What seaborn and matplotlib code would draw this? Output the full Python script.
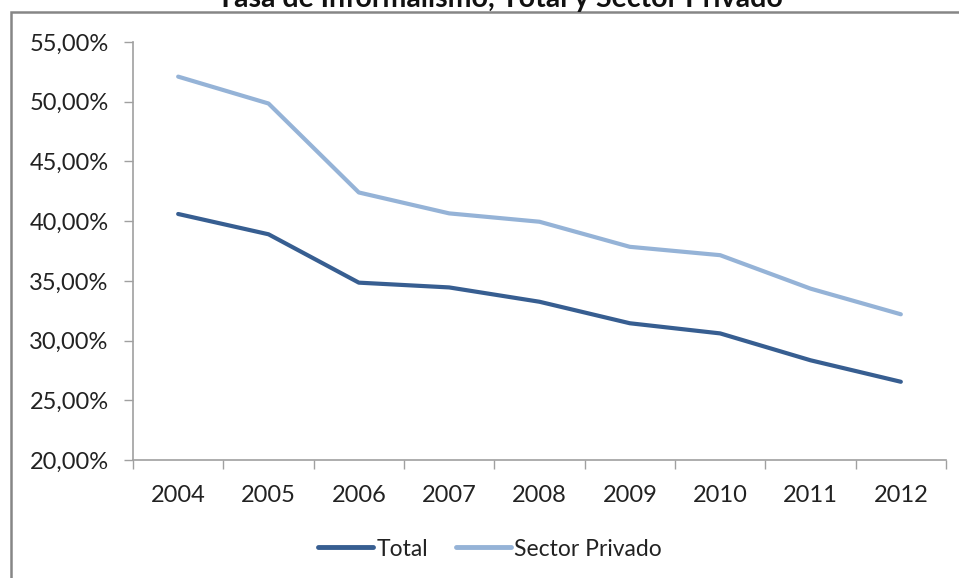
import matplotlib
matplotlib.use("Agg")
import matplotlib.pyplot as plt
from matplotlib.patches import Rectangle
from matplotlib.ticker import FuncFormatter, FixedLocator
import seaborn as sns
import pandas as pd

years = ["2004", "2005", "2006", "2007", "2008", "2009", "2010", "2011", "2012"]
total = [40.6, 38.9, 34.85, 34.45, 33.25, 31.45, 30.6, 28.35, 26.55]
sector_privado = [52.1, 49.85, 42.4, 40.65, 39.95, 37.85, 37.15, 34.35, 32.2]
series_names = ["Total", "Sector Privado"]
series_colors = ["#375E91", "#95B3D7"]
y_ticks = [20, 25, 30, 35, 40, 45, 50, 55]
title = "Tasa de Informalismo, Total y Sector Privado"

df = pd.DataFrame({
    "year": list(range(len(years))) * 2,
    "value": total + sector_privado,
    "serie": [series_names[0]] * len(years) + [series_names[1]] * len(years),
})

sns.set_theme(style="white")
plt.rcParams["font.family"] = ["Lato", "DejaVu Sans"]

W, H = 959, 578
fig = plt.figure(figsize=(W / 100, H / 100), dpi=100)
ax = fig.add_axes([133 / W, 1 - 460 / H, (946 - 133) / W, (460 - 42) / H])

sns.lineplot(data=df, x="year", y="value", hue="serie", hue_order=series_names,
             palette=series_colors, linewidth=3.0, ax=ax, legend=False,
             solid_capstyle="round", solid_joinstyle="round")

ax.set_xlim(-0.5, len(years) - 0.5)
ax.set_ylim(y_ticks[0], y_ticks[-1])
ax.set_xticks(range(len(years)))
ax.set_xticklabels(years)
ax.xaxis.set_minor_locator(FixedLocator([i - 0.5 for i in range(len(years) + 1)]))
ax.set_yticks(y_ticks)
ax.yaxis.set_major_formatter(FuncFormatter(lambda v, _: f"{v:.2f}".replace(".", ",") + "%"))
ax.set_xlabel("")
ax.set_ylabel("")

axis_gray = "#A0A0A0"
for side in ["top", "right"]:
    ax.spines[side].set_visible(False)
for side in ["left", "bottom"]:
    ax.spines[side].set_color(axis_gray)
    ax.spines[side].set_linewidth(1.2)

ax.tick_params(axis="y", which="major", direction="out", length=6.5, width=1.0,
               color=axis_gray, labelsize=17, labelcolor="#222222", pad=11, left=True)
ax.tick_params(axis="x", which="major", length=0, labelsize=17, labelcolor="#222222", pad=18)
ax.tick_params(axis="x", which="minor", direction="out", length=6.5, width=1.0,
               color=axis_gray, bottom=True)

handles = [plt.Line2D([], [], color=c, linewidth=3.5, solid_capstyle="round") for c in series_colors]
fig.legend(handles, series_names, loc="center", bbox_to_anchor=(490 / W, 1 - 549 / H),
           ncol=2, frameon=False, fontsize=16.5, handlelength=2.4, handletextpad=0.15,
           columnspacing=1.2, labelcolor="#222222")

fig.text(500 / W, 1 - 7 / H, title, ha="center", va="baseline",
         fontsize=20.5, fontweight="bold", color="#111111")

fig.patches.append(Rectangle((11 / W, -0.2), 1.2, 0.2 + (H - 12) / H,
                             transform=fig.transFigure, fill=False,
                             edgecolor="#868686", linewidth=1.8))

fig.savefig("out.png", dpi=100, facecolor="white")
